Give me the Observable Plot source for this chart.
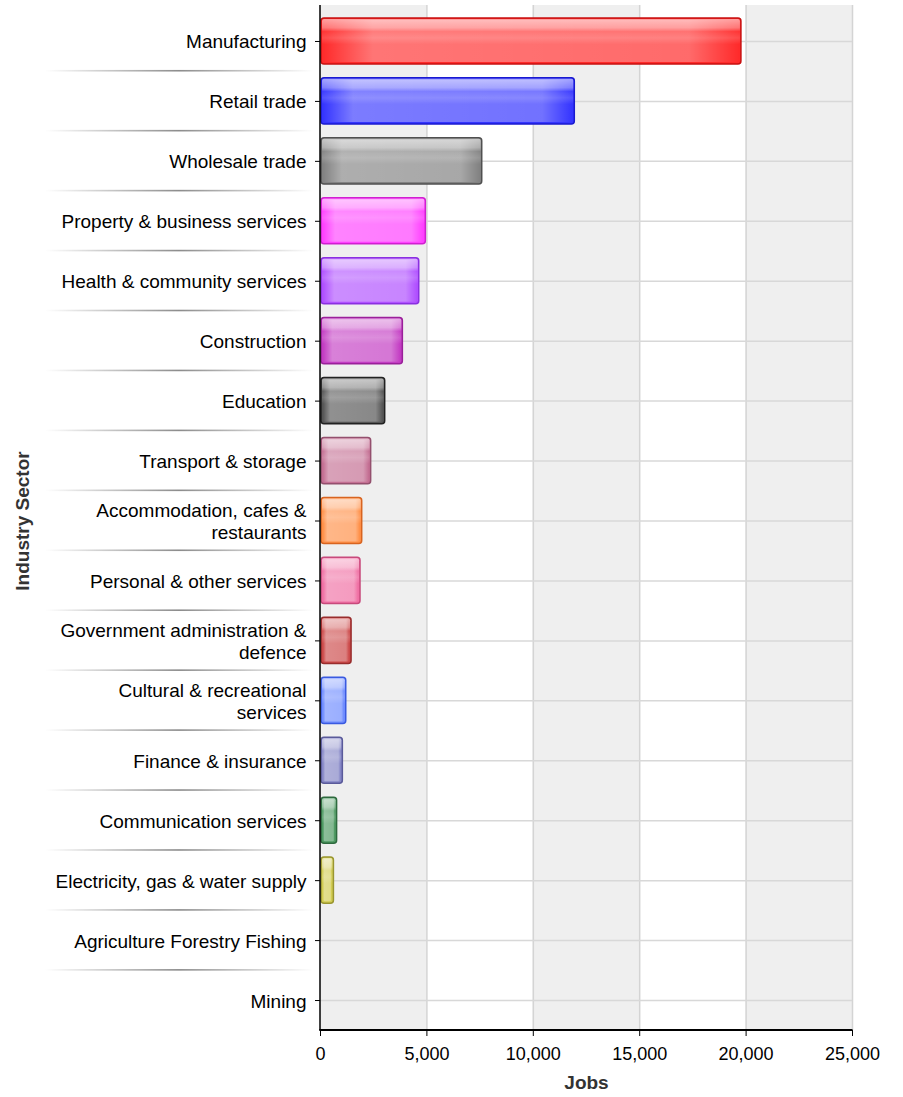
<!DOCTYPE html>
<html><head><meta charset="utf-8">
<script src="https://cdn.jsdelivr.net/npm/d3@7"></script>
<script src="https://cdn.jsdelivr.net/npm/@observablehq/plot@0.6"></script>
<style>body{margin:0;background:#fff} svg{display:block}</style>
</head><body><div id="chart"></div>
<script>
const sectors = [
  "Manufacturing",
  "Retail trade",
  "Wholesale trade",
  "Property & business services",
  "Health & community services",
  "Construction",
  "Education",
  "Transport & storage",
  "Accommodation, cafes &\nrestaurants",
  "Personal & other services",
  "Government administration &\ndefence",
  "Cultural & recreational\nservices",
  "Finance & insurance",
  "Communication services",
  "Electricity, gas & water supply",
  "Agriculture Forestry Fishing",
  "Mining"
];
const jobs = [19780, 11950, 7600, 4950, 4640, 3870, 3040, 2380, 1960, 1880, 1460, 1210, 1050, 780, 630, 0, 0];
const colors = ["#ff2b2b", "#3535ff", "#828282", "#ff40ff", "#b050ff", "#c33cc3", "#555555", "#c46f93",
  "#ff9048", "#f070a4", "#cc4a4a", "#6f8cff", "#8586c6", "#4e9a62", "#d2cc52", "#999999", "#999999"];
const strokes = ["#c81010", "#1a1ad0", "#505050", "#d020d0", "#8a30e0", "#9a209a", "#222222", "#94506e",
  "#d86420", "#c84a7c", "#982c2c", "#3a5ae0", "#5a5a9a", "#2e6a3e", "#9a9630", "#777777", "#777777"];
const xTicks = [0, 5000, 10000, 15000, 20000, 25000];
const stripeStarts = [0, 10000, 20000];
const stripeEnds = [5000, 15000, 25000];

const data = sectors.map((s, i) => ({sector: s, jobs: jobs[i], color: colors[i], stroke: strokes[i]}));

const stripesMark = (index, scales, values, dims) => {
  const g = d3.create("svg:g");
  const top = dims.marginTop - 6, bottom = dims.height - dims.marginBottom;
  stripeStarts.forEach((a, i) => {
    const x0 = scales.x(a), x1 = scales.x(stripeEnds[i]);
    g.append("rect").attr("x", x0).attr("width", x1 - x0).attr("y", top).attr("height", bottom - top)
      .attr("fill", "#efefef").attr("class", "stripe");
  });
  return g.node();
};

const separators = (index, scales, values, dims) => {
  const g = d3.create("svg:g");
  const y = scales.y;
  const bw = y.bandwidth();
  const defs = g.append("defs");
  const lg = defs.append("linearGradient").attr("id", "sepgrad").attr("x1", "0").attr("x2", "1").attr("y1", "0").attr("y2", "0");
  lg.append("stop").attr("offset", "0%").attr("stop-color", "#ffffff");
  lg.append("stop").attr("offset", "50%").attr("stop-color", "#8c8c8c");
  lg.append("stop").attr("offset", "100%").attr("stop-color", "#ffffff");
  for (let i = 1; i < sectors.length; i++) {
    const yy = (y(sectors[i - 1]) + y(sectors[i]) + bw) / 2;
    g.append("rect").attr("x", 45).attr("width", 268).attr("y", yy - 1).attr("height", 1.6).attr("fill", "url(#sepgrad)");
  }
  return g.node();
};

const axisLines = (index, scales, values, dims) => {
  const g = d3.create("svg:g");
  const x0 = scales.x(0), x1 = scales.x(25000);
  const bottom = dims.height - dims.marginBottom;
  g.append("line").attr("x1", x0).attr("x2", x0).attr("y1", 5).attr("y2", bottom).attr("stroke", "#000").attr("stroke-width", 1.5);
  g.append("line").attr("x1", x0 - 0.75).attr("x2", x1 + 0.5).attr("y1", bottom).attr("y2", bottom).attr("stroke", "#000").attr("stroke-width", 2);
  return g.node();
};

const chart = Plot.plot({
  width: 903,
  height: 1097,
  marginLeft: 320,
  marginRight: 51,
  marginTop: 11,
  marginBottom: 67,
  style: {fontFamily: "'Liberation Sans', Arial, sans-serif", fontSize: "19px", color: "#000", background: "#ffffff", overflow: "visible"},
  x: {domain: [0, 25000]},
  y: {domain: sectors, paddingInner: 0.23, paddingOuter: 0.115, round: false},
  color: {type: "identity"},
  marks: [
    stripesMark,
    Plot.gridX(xTicks.slice(1), {stroke: "#d4d4d4", strokeOpacity: 1, strokeWidth: 1.5, insetTop: -6}),
    Plot.gridY(sectors, {stroke: "#d8d8d8", strokeOpacity: 1, strokeWidth: 1.5}),
    separators,
    Plot.barX(data.filter(d => d.jobs > 0), {y: "sector", x: "jobs", fill: "color", stroke: "stroke", strokeWidth: 1.5, rx: 3, insetLeft: 1}),
    Plot.axisY({tickSize: 5, tickPadding: 9, fontSize: 19, lineHeight: 1.15, label: null, stroke: "#000"}),
    Plot.axisX({ticks: xTicks, tickFormat: d3.format(","), tickSize: 6, tickPadding: 11, fontSize: 18, label: null}),
    axisLines,
    Plot.text(["Jobs"], {frameAnchor: "bottom", dy: 58, textAnchor: "middle", fontWeight: "bold", fontSize: 19, fill: "#333"}),
    Plot.text(["Industry Sector"], {frameAnchor: "left", dx: -298, textAnchor: "middle", rotate: -90, fontWeight: "bold", fontSize: 19, fill: "#333"})
  ]
});

// glossy bar styling
const svg = d3.select(chart.tagName === "svg" ? chart : chart.querySelector("svg"));
const defs = svg.insert("defs", ":first-child");
const shine = defs.append("linearGradient").attr("id", "shine").attr("x1", 0).attr("x2", 0).attr("y1", 0).attr("y2", 1);
[[0, 0.55], [0.35, 0.35], [0.5, 0.05], [0.75, 0.15], [1, 0.0]].forEach(([o, a]) =>
  shine.append("stop").attr("offset", o).attr("stop-color", "#fff").attr("stop-opacity", a));
const hfade = defs.append("linearGradient").attr("id", "hfade").attr("x1", 0).attr("x2", 1).attr("y1", 0).attr("y2", 0);
[[0, 0.0], [0.12, 0.35], [0.88, 0.3], [1, 0.0]].forEach(([o, a]) =>
  hfade.append("stop").attr("offset", o).attr("stop-color", "#fff").attr("stop-opacity", a));
svg.selectAll("rect").each(function () {
  const r = d3.select(this);
  const f = r.attr("fill");
  const st = r.attr("stroke");
  if (!st || !f || f.startsWith("url") || r.classed("stripe")) return;
  const p = this.parentNode;
  const x = +r.attr("x"), y = +r.attr("y"), w = +r.attr("width"), h = +r.attr("height");
  d3.select(p).append("rect").attr("x", x + 2).attr("y", y + 2).attr("width", Math.max(0, w - 4)).attr("height", h - 4)
    .attr("rx", 2).attr("fill", "url(#hfade)").attr("stroke", "none");
  d3.select(p).append("rect").attr("x", x + 1).attr("y", y + 1).attr("width", Math.max(0, w - 2)).attr("height", h * 0.55)
    .attr("rx", 2).attr("fill", "url(#shine)").attr("stroke", "none");
});
document.getElementById("chart").appendChild(chart);
</script>
</body></html>
